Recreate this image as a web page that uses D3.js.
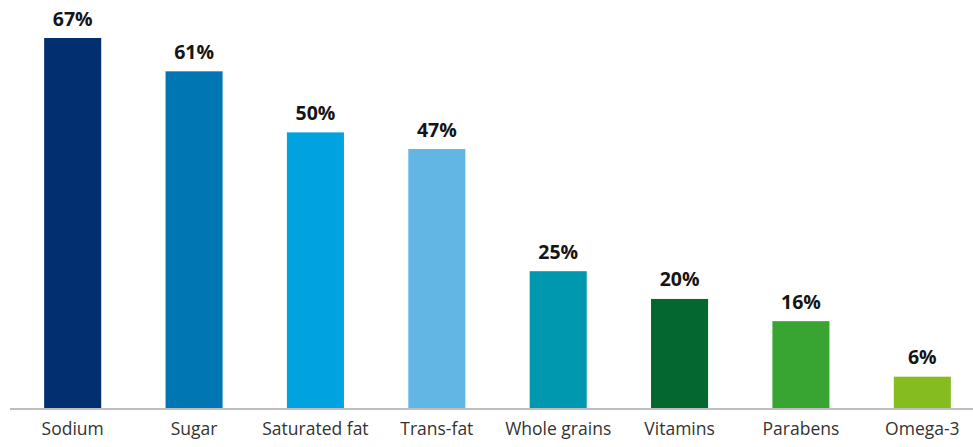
<!DOCTYPE html>
<html><head><meta charset="utf-8">
<script src="https://cdn.jsdelivr.net/npm/d3@7"></script>
<style>body{margin:0;background:#fff}svg{display:block}</style>
</head><body>
<svg id="c" width="973" height="447"></svg>
<script>
const categories = ["Sodium","Sugar","Saturated fat","Trans-fat","Whole grains","Vitamins","Parabens","Omega-3"];
const values = [67,61,50,47,25,20,16,6];
const colors = ["#012F6F","#0076B3","#00A3E0","#62B6E4","#0098AF","#04672F","#38A533","#85BC1F"];

const svg = d3.select("#c");
const x = d3.scaleBand().domain(categories).range([12,983]).paddingInner(0.53).paddingOuter(0.265);
const y = d3.scaleLinear().domain([0,67]).range([410,38]);

svg.selectAll("rect.bar").data(values).join("rect")
  .attr("x",(d,i)=>x(categories[i])).attr("width",x.bandwidth())
  .attr("y",d=>y(d)).attr("height",d=>y(0)-y(d))
  .attr("fill",(d,i)=>colors[i]);

svg.selectAll("text.val").data(values).join("text")
  .attr("x",(d,i)=>x(categories[i])+x.bandwidth()/2).attr("y",d=>y(d)-12.5)
  .attr("text-anchor","middle").attr("font-family","'Open Sans'").attr("font-weight","bold")
  .attr("font-size",19.5).attr("fill","#151515").text(d=>d+"%");

const ax = svg.append("g").attr("transform","translate(0,409)")
  .call(d3.axisBottom(x).tickSize(0).tickPadding(14));
ax.select(".domain").remove();
ax.append("line").attr("x1",10).attr("x2",973).attr("y1",0).attr("y2",0).attr("stroke","#bdbdbd").attr("stroke-width",2);
ax.selectAll("text").attr("font-family","'Open Sans'").attr("font-size",17.5).attr("fill","#333");
</script>
</body></html>
